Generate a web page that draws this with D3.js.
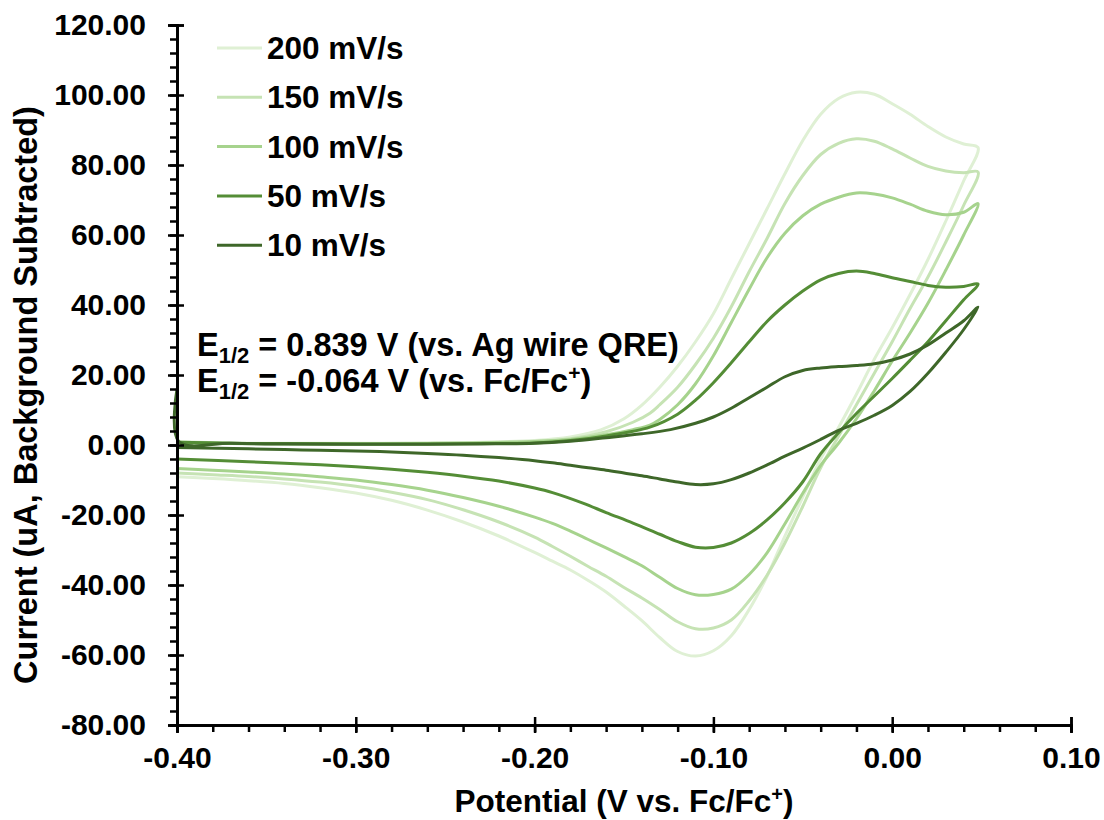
<!DOCTYPE html>
<html>
<head>
<meta charset="utf-8">
<script src="https://cdn.jsdelivr.net/npm/d3@7"></script>
<style>
  body { margin: 0; background: #fff; }
  text { font-family: "Liberation Sans", Arial, sans-serif; font-weight: bold; fill: #000; }
</style>
</head>
<body>
<div class="graph-goes-here"></div>
<script>
// cyclic voltammograms, [potential (V vs Fc/Fc+), current (uA)], forward scan then reverse
var cv200 = [[-0.40, 1.0], [-0.37, 0.6], [-0.34, 0.5], [-0.30, 0.5], [-0.26, 0.6], [-0.23, 0.8], [-0.20, 1.3], [-0.18, 2.3],
    [-0.163, 4.3], [-0.15, 7.5], [-0.14, 11.4], [-0.13, 16.5], [-0.12, 22.5], [-0.11, 29.5], [-0.10, 37.5], [-0.09, 47.5],
    [-0.08, 57.5], [-0.07, 67.5], [-0.06, 77.5], [-0.05, 87], [-0.04, 94.5], [-0.03, 99], [-0.02, 100.8], [-0.01, 100.2],
    [0.00, 97.5], [0.01, 94.5], [0.02, 91], [0.03, 88], [0.04, 86], [0.048, 85],
    [0.04, 75.5], [0.03, 64], [0.02, 53], [0.01, 43], [0.00, 33.5], [-0.01, 24.5], [-0.02, 14.5], [-0.03, 5], [-0.04, -4],
    [-0.05, -14.8], [-0.06, -26], [-0.07, -37.5], [-0.08, -47], [-0.09, -54.5], [-0.10, -58.8], [-0.11, -60.3], [-0.12, -59],
    [-0.13, -55], [-0.14, -50.2], [-0.15, -46], [-0.16, -42], [-0.17, -38.7], [-0.18, -35.7], [-0.19, -33.2], [-0.20, -30.7],
    [-0.22, -26], [-0.24, -22], [-0.26, -18.6], [-0.28, -15.8], [-0.30, -13.7], [-0.32, -12.2], [-0.34, -11], [-0.36, -10.2],
    [-0.38, -9.6], [-0.40, -9.1]];

var cv150 = [[-0.40, 0.8], [-0.37, 0.5], [-0.34, 0.4], [-0.30, 0.4], [-0.26, 0.5], [-0.23, 0.7], [-0.20, 1.1], [-0.18, 1.8],
    [-0.16, 3.8], [-0.145, 6.5], [-0.1355, 9.1], [-0.13, 11.5], [-0.12, 16.5], [-0.11, 23], [-0.10, 30.5], [-0.09, 39.5],
    [-0.08, 49.5], [-0.07, 59], [-0.06, 69], [-0.05, 77], [-0.04, 83], [-0.03, 86.2], [-0.02, 87.5], [-0.01, 86.8],
    [0.00, 84.6], [0.01, 82], [0.02, 79.6], [0.03, 78.3], [0.04, 77.8], [0.048, 78],
    [0.04, 68.5], [0.03, 58], [0.02, 48], [0.01, 39], [0.00, 29.5], [-0.01, 20.5], [-0.02, 11.5], [-0.03, 2.5], [-0.04, -6.5],
    [-0.05, -17.5], [-0.06, -28], [-0.07, -37.2], [-0.08, -44.5], [-0.09, -50], [-0.10, -52.3], [-0.11, -52.5], [-0.12, -50.5],
    [-0.13, -47], [-0.14, -43.7], [-0.15, -40.7], [-0.16, -37.5], [-0.17, -34.7], [-0.18, -31.8], [-0.19, -29], [-0.20, -26.3],
    [-0.22, -22], [-0.24, -18.5], [-0.26, -15.6], [-0.28, -13.5], [-0.30, -11.8], [-0.32, -10.6], [-0.34, -9.7], [-0.36, -9],
    [-0.38, -8.5], [-0.40, -8]];

var cv100 = [[-0.40, 0.6], [-0.37, 0.4], [-0.34, 0.3], [-0.30, 0.3], [-0.26, 0.4], [-0.23, 0.6], [-0.20, 1.0], [-0.18, 1.6],
    [-0.16, 2.9], [-0.145, 4.4], [-0.1355, 5.7], [-0.13, 7.3], [-0.12, 11.5], [-0.11, 17.5], [-0.10, 25.5], [-0.09, 35],
    [-0.08, 44.5], [-0.07, 53.5], [-0.06, 60.5], [-0.05, 65.5], [-0.04, 68.8], [-0.03, 70.8], [-0.02, 72], [-0.01, 71.7],
    [0.00, 70.6], [0.01, 68.8], [0.02, 66.8], [0.03, 65.8], [0.04, 66.5], [0.048, 69],
    [0.04, 60], [0.03, 50], [0.02, 40.5], [0.01, 32], [0.00, 24], [-0.01, 15.5], [-0.02, 7.5], [-0.03, 0.5], [-0.04, -5.8],
    [-0.05, -13.8], [-0.06, -22.5], [-0.07, -30.8], [-0.08, -37], [-0.09, -41.2], [-0.10, -42.7], [-0.11, -42.8], [-0.12, -41],
    [-0.13, -37.8], [-0.14, -34.5], [-0.15, -31.9], [-0.16, -29.4], [-0.17, -27], [-0.18, -24.6], [-0.19, -22.4], [-0.20, -20.6],
    [-0.22, -17.5], [-0.24, -15], [-0.26, -12.9], [-0.28, -11.3], [-0.30, -10], [-0.32, -9.1], [-0.34, -8.3], [-0.36, -7.7],
    [-0.38, -7.2], [-0.40, -6.7]];

var cv50 = [[-0.40, 0.8], [-0.37, 0.5], [-0.34, 0.4], [-0.30, 0.3], [-0.26, 0.3], [-0.23, 0.4], [-0.20, 0.6], [-0.18, 1.3],
    [-0.16, 2.6], [-0.1355, 5.1], [-0.12, 8.8], [-0.11, 12.8], [-0.10, 17.8], [-0.09, 23.5], [-0.08, 29.5], [-0.07, 35.3],
    [-0.06, 40], [-0.05, 44], [-0.04, 47.2], [-0.03, 49], [-0.02, 49.7], [-0.01, 49], [0.00, 47.8], [0.01, 46.7],
    [0.02, 45.6], [0.03, 45.1], [0.04, 45.3], [0.048, 46],
    [0.04, 41.5], [0.03, 35.5], [0.02, 29.5], [0.01, 24.2], [0.00, 19], [-0.01, 14], [-0.02, 9], [-0.03, 3.5], [-0.04, -2.5],
    [-0.05, -10.5], [-0.06, -16.5], [-0.07, -21.4], [-0.08, -25.3], [-0.09, -28], [-0.10, -29.3], [-0.11, -29.2], [-0.12, -27.6],
    [-0.13, -25.5], [-0.145, -22.3], [-0.16, -19.3], [-0.173, -16.6], [-0.19, -13.6], [-0.20, -12.3], [-0.22, -10.3],
    [-0.24, -8.9], [-0.26, -7.8], [-0.28, -6.9], [-0.30, -6.2], [-0.33, -5.4], [-0.36, -4.8], [-0.40, -4]];

var cv10 = [[-0.40, 16], [-0.399, 1.0], [-0.37, 0.5], [-0.34, 0.3], [-0.30, 0.2], [-0.26, 0.2], [-0.23, 0.3], [-0.20, 0.5],
    [-0.18, 1.1], [-0.16, 2.1], [-0.14, 3.2], [-0.124, 4.4], [-0.11, 6.2], [-0.10, 8], [-0.09, 10.5], [-0.08, 13.5],
    [-0.07, 16.5], [-0.06, 19.5], [-0.05, 21.3], [-0.04, 22], [-0.03, 22.4], [-0.02, 22.7], [-0.01, 23.2], [0.00, 24.3],
    [0.01, 26], [0.02, 28.6], [0.03, 32], [0.04, 35.5], [0.048, 39.4],
    [0.04, 33], [0.03, 26.5], [0.02, 20.5], [0.01, 15.3], [0.00, 11.3], [-0.01, 8.5], [-0.02, 6.2], [-0.03, 4.2], [-0.04, 1.6],
    [-0.05, -0.9], [-0.06, -3.2], [-0.07, -5.7], [-0.08, -8], [-0.09, -9.9], [-0.10, -11.1], [-0.11, -11.3], [-0.12, -10.6],
    [-0.13, -9.7], [-0.14, -8.8], [-0.15, -8], [-0.16, -7.2], [-0.17, -6.5], [-0.18, -5.8], [-0.19, -5.1], [-0.20, -4.5],
    [-0.22, -3.6], [-0.24, -2.9], [-0.26, -2.4], [-0.28, -2], [-0.30, -1.7], [-0.33, -1.4], [-0.36, -1.1], [-0.40, -0.7]];

var seriesNames = ["200 mV/s", "150 mV/s", "100 mV/s", "50 mV/s", "10 mV/s"];
var seriesData = [cv200, cv150, cv100, cv50, cv10];
var seriesColors = ["#dff0d4", "#c6e3b4", "#a6d38d", "#548d36", "#3e6729"];

var xTicks = [-0.40, -0.30, -0.20, -0.10, 0.00, 0.10];
var yTicks = [-80, -60, -40, -20, 0, 20, 40, 60, 80, 100, 120];

var width = 1104, height = 820;

var svg = d3.select(".graph-goes-here")
    .append("svg")
    .attr("width", width)
    .attr("height", height);

var xScale = d3.scaleLinear().domain([-0.40, 0.10]).range([177, 1071]);
var yScale = d3.scaleLinear().domain([-80, 120]).range([725, 25]);

// curves, slow scan on top
var line = d3.line()
    .x(d => xScale(d[0]))
    .y(d => yScale(d[1]))
    .curve(d3.curveCatmullRom.alpha(0.5));

seriesData.forEach((data, i) => {
    svg.append("path")
        .datum(data)
        .attr("fill", "none")
        .attr("stroke", seriesColors[i])
        .attr("stroke-width", 3)
        .attr("stroke-linejoin", "round")
        .attr("d", line);
});

// y axis: minor ticks outside, major ticks crossing
var yMinor = d3.range(-80, 121, 4);
svg.append("g").attr("class", "axis")
    .attr("transform", "translate(" + xScale(-0.40) + ",0)")
    .call(d3.axisLeft(yScale).tickValues(yMinor).tickSize(7).tickFormat(""));
svg.append("g").attr("class", "axis")
    .attr("transform", "translate(" + xScale(-0.40) + ",0)")
    .call(d3.axisRight(yScale).tickValues(yTicks).tickSize(7).tickFormat(""));
var yAxis = svg.append("g").attr("class", "axis")
    .attr("transform", "translate(" + xScale(-0.40) + ",0)")
    .call(d3.axisLeft(yScale).tickValues(yTicks).tickSize(9).tickPadding(22).tickFormat(d => d.toFixed(2)));

// x axis
var xMinor = d3.range(-0.40, 0.1001, 0.02);
svg.append("g").attr("class", "axis")
    .attr("transform", "translate(0," + yScale(-80) + ")")
    .call(d3.axisBottom(xScale).tickValues(xMinor).tickSize(7).tickFormat(""));
svg.append("g").attr("class", "axis")
    .attr("transform", "translate(0," + yScale(-80) + ")")
    .call(d3.axisTop(xScale).tickValues(xTicks).tickSize(8).tickFormat(""));
var xAxis = svg.append("g").attr("class", "axis")
    .attr("transform", "translate(0," + yScale(-80) + ")")
    .call(d3.axisBottom(xScale).tickValues(xTicks).tickSize(8).tickPadding(14).tickFormat(d => d.toFixed(2)));

svg.selectAll(".axis path").attr("stroke", "#000").attr("stroke-width", 2.5);
svg.selectAll(".axis line").attr("stroke", "#000").attr("stroke-width", 2.5);
svg.selectAll(".axis text")
    .style("font-family", "'Liberation Sans', Arial, sans-serif")
    .style("font-weight", "bold")
    .style("font-size", "30px")
    .attr("fill", "#000");

// legend
var legend = svg.append("g");
seriesNames.forEach((name, i) => {
    var ly = 48 + i * 49.3;
    legend.append("line")
        .attr("x1", 217).attr("x2", 262)
        .attr("y1", ly).attr("y2", ly)
        .attr("stroke", seriesColors[i])
        .attr("stroke-width", 3);
    legend.append("text")
        .attr("x", 267).attr("y", ly + 11)
        .style("font-size", "31.5px")
        .text(name);
});

// half-wave potential notes
function halfWave(y, rest, sup) {
    var t = svg.append("text").attr("x", 197).attr("y", y).style("font-size", "32.5px");
    t.append("tspan").text("E");
    t.append("tspan").attr("dy", 7).style("font-size", "22px").text("1/2");
    t.append("tspan").attr("dy", -7).text(rest);
    if (sup) {
        t.append("tspan").attr("dy", -12).style("font-size", "21px").text("+");
        t.append("tspan").attr("dy", 12).text(")");
    }
}
halfWave(356, " = 0.839 V (vs. Ag wire QRE)", false);
halfWave(392, " = -0.064 V (vs. Fc/Fc", true);

// axis titles
var xTitle = svg.append("text")
    .attr("x", 624).attr("y", 812)
    .attr("text-anchor", "middle")
    .style("font-size", "31.5px");
xTitle.append("tspan").text("Potential (V vs. Fc/Fc");
xTitle.append("tspan").attr("dy", -11).style("font-size", "20px").text("+");
xTitle.append("tspan").attr("dy", 11).text(")");

svg.append("text")
    .attr("transform", "translate(37,395) rotate(-90)")
    .attr("text-anchor", "middle")
    .style("font-size", "32.5px")
    .text("Current (uA, Background Subtracted)");
</script>
</body>
</html>
